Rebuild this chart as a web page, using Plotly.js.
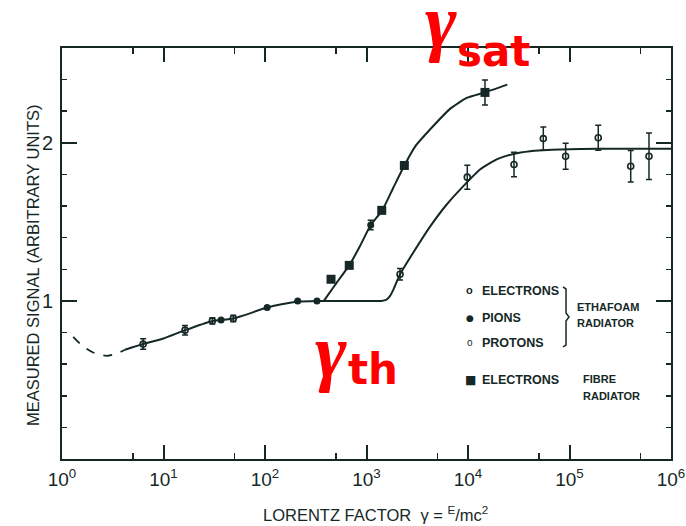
<!DOCTYPE html>
<html>
<head>
<meta charset="utf-8">
<script src="https://cdn.plot.ly/plotly-3.0.1.min.js"></script>
<style>html,body{margin:0;padding:0;background:#fff;}#chart{width:686px;height:526px;}</style>
</head>
<body>
<div id="chart"></div>
<script>
// ---- data ----
// Ethafoam radiator: protons (open circles, low gamma)
var protonsX = [6.3, 16.3, 30.3, 48.7];
var protonsY = [0.727, 0.815, 0.874, 0.889];
var protonsErr = [0.033, 0.03, 0.02, 0.02];
// Ethafoam radiator: pions (filled circles)
var pionsX = [36.9, 105, 210, 325, 1100];
var pionsY = [0.88, 0.958, 1.0, 1.0, 1.48];
var pionsErr = [0, 0, 0, 0, 0.03];
// Ethafoam radiator: electrons (open markers, high gamma)
var electronsX = [2140, 9840, 28400, 55200, 91600, 192000, 401000, 607000];
var electronsY = [1.169, 1.783, 1.863, 2.027, 1.915, 2.032, 1.852, 1.915];
var electronsErr = [0.036, 0.076, 0.077, 0.074, 0.082, 0.079, 0.1, 0.147];
// Fibre radiator: electrons (filled squares)
var fibreX = [447, 676, 1413, 2360, 14700];
var fibreY = [1.137, 1.225, 1.573, 1.857, 2.319];
var fibreErr = [0, 0, 0, 0, 0.079];
// Curves
var dashedX = [1.29, 1.62, 2.03, 2.76, 3.46, 4.17];
var dashedY = [0.773, 0.712, 0.674, 0.653, 0.668, 0.691];
var ethafoamCurveX = [4.17, 6.3, 10, 16.3, 30, 49, 105, 150, 210, 325, 600, 1000, 1400, 1560, 1700, 1850, 2140, 2890, 4230, 6170, 9000, 13120, 19170, 27990, 40900, 55200, 80600, 200000, 1000000];
var ethafoamCurveY = [0.691, 0.727, 0.762, 0.815, 0.872, 0.889, 0.958, 0.98, 0.995, 1.0, 1.0, 1.0, 1.0, 1.006, 1.03, 1.075, 1.169, 1.306, 1.47, 1.61, 1.726, 1.831, 1.895, 1.93, 1.947, 1.953, 1.958, 1.962, 1.962];
var fibreCurveX = [380, 420, 509, 676, 863, 1100, 1430, 1836, 2360, 3000, 4450, 6650, 9710, 14700, 24400];
var fibreCurveY = [1.0, 1.04, 1.116, 1.225, 1.347, 1.48, 1.573, 1.716, 1.857, 1.975, 2.1, 2.215, 2.284, 2.319, 2.368];
// Tick labels
var xTickVals = [1, 10, 100, 1000, 10000, 100000, 1000000];
var xTickText = ['10<sup>0</sup>', '10<sup>1</sup>', '10<sup>2</sup>', '10<sup>3</sup>', '10<sup>4</sup>', '10<sup>5</sup>', '10<sup>6</sup>'];
var xMinorVals = [5, 50, 500, 5000, 50000, 500000];
var yTickVals = [1, 2];
var yTickText = ['1', '2'];

// ---- styling ----
var INK = '#152826';
var SANS = '"Liberation Sans", Arial, sans-serif';
var L = 62, T = 48, W = 609, H = 411;
function px(x) { return (x - L) / W; }
function py(y) { return (T + H - y) / H; }

function errY(arr) {
  return {type: 'data', array: arr, visible: true, color: INK, thickness: 1.5, width: 3};
}

var traces = [
  {x: dashedX, y: dashedY, mode: 'lines', line: {color: INK, width: 1.8, dash: 'dash', shape: 'spline', smoothing: 1}, hoverinfo: 'skip', showlegend: false},
  {x: ethafoamCurveX, y: ethafoamCurveY, mode: 'lines', line: {color: INK, width: 2, shape: 'spline', smoothing: 0.5}, showlegend: false},
  {x: fibreCurveX, y: fibreCurveY, mode: 'lines', line: {color: INK, width: 2, shape: 'spline', smoothing: 0.5}, showlegend: false},
  {x: protonsX, y: protonsY, mode: 'markers', name: 'Protons', error_y: errY(protonsErr),
   marker: {symbol: 'circle-open', size: 6, color: INK, line: {width: 1.6, color: INK}}, showlegend: false},
  {x: pionsX, y: pionsY, mode: 'markers', name: 'Pions', error_y: errY(pionsErr),
   marker: {symbol: 'circle', size: 7, color: INK}, showlegend: false},
  {x: electronsX, y: electronsY, mode: 'markers', name: 'Electrons (ethafoam)', error_y: errY(electronsErr),
   marker: {symbol: 'circle-open', size: 6, color: INK, line: {width: 1.6, color: INK}}, showlegend: false},
  {x: fibreX, y: fibreY, mode: 'markers', name: 'Electrons (fibre)', error_y: errY(fibreErr),
   marker: {symbol: 'square', size: 9, color: INK}, showlegend: false}
];

var ann = [];
function txt(text, x, y, opts) {
  var a = {text: text, xref: 'paper', yref: 'paper', x: px(x), y: py(y), showarrow: false,
    xanchor: 'left', yanchor: 'middle', font: {family: SANS, size: 12.5, color: INK}};
  for (var k in opts) a[k] = opts[k];
  ann.push(a);
}
// axis titles
txt('MEASURED SIGNAL (ARBITRARY UNITS)', 33, 265, {xanchor: 'center', textangle: -90, font: {family: SANS, size: 16.5, color: INK}});
txt('LORENTZ FACTOR&nbsp;&nbsp;γ = <sup>E</sup>/mc<sup>2</sup>', 375, 514, {xanchor: 'center', font: {family: SANS, size: 16.5, color: INK}});
// legend block
txt('<b>o</b>', 469.5, 290, {xanchor: 'center', font: {family: SANS, size: 11, color: INK}});
txt('●', 469.5, 318.3, {xanchor: 'center', font: {family: 'DejaVu Sans', size: 9, color: INK}});
txt('o', 469.5, 342, {xanchor: 'center', font: {family: SANS, size: 10, color: INK}});
txt('■', 470, 380, {xanchor: 'center', font: {family: 'DejaVu Sans', size: 12, color: INK}});
txt('<b>ELECTRONS</b>', 480, 290.7);
txt('<b>PIONS</b>', 480, 318.3);
txt('<b>PROTONS</b>', 480, 342.7);
txt('<b>ELECTRONS</b>', 480, 380);
txt('<b>ETHAFOAM</b>', 575, 307.3, {font: {family: SANS, size: 11, color: INK}});
txt('<b>RADIATOR</b>', 575, 322.7, {font: {family: SANS, size: 11, color: INK}});
txt('<b>FIBRE</b>', 581, 379, {font: {family: SANS, size: 11, color: INK}});
txt('<b>RADIATOR</b>', 581, 395.7, {font: {family: SANS, size: 11, color: INK}});
// red labels
var RED = '#ff0000';
var GAMMA_FONT = {family: '"Liberation Serif", serif', size: 76, color: RED, weight: 'bold', style: 'italic'};
txt('γ', 441, 21, {xanchor: 'center', font: GAMMA_FONT});
txt('<b>sat</b>', 455, 51, {font: {family: 'DejaVu Sans', size: 42, color: RED}});
txt('γ', 331, 351, {xanchor: 'center', font: GAMMA_FONT});
txt('<b>th</b>', 346, 369, {font: {family: 'DejaVu Sans', size: 42, color: RED}});

// brace joining the three ethafoam entries (decoration, drawn in pixel positions)
var bracePts = [[563, 287, 'M'], [566, 289, 'L'], [566, 313, 'L'], [569, 317, 'L'], [566, 321, 'L'], [566, 345, 'L'], [563, 347, 'L']];
var bracePath = bracePts.map(function (p) { return p[2] + ' ' + px(p[0]).toFixed(4) + ',' + py(p[1]).toFixed(4); }).join(' ');

var axisCommon = {
  showline: true, linewidth: 2, linecolor: INK, mirror: 'allticks',
  showgrid: false, zeroline: false, ticks: 'inside', tickwidth: 2, tickcolor: INK
};

var layout = {
  width: 686, height: 526,
  margin: {l: L, r: 686 - L - W, t: T, b: 526 - T - H},
  paper_bgcolor: '#ffffff', plot_bgcolor: '#ffffff',
  showlegend: false,
  xaxis: Object.assign({}, axisCommon, {
    type: 'log', range: [0, 6], tickmode: 'array', tickvals: xTickVals, ticktext: xTickText,
    ticklen: 14, ticklabelstandoff: 2,
    tickfont: {family: SANS, size: 19, color: INK},
    minor: {tickmode: 'array', tickvals: xMinorVals, ticks: 'inside', ticklen: 6, tickwidth: 1.5, tickcolor: INK}
  }),
  yaxis: Object.assign({}, axisCommon, {
    range: [0, 2.6], tickmode: 'array', tickvals: yTickVals, ticktext: yTickText,
    ticklen: 15, ticklabelstandoff: 3,
    tickfont: {family: SANS, size: 20, color: INK},
    minor: {tick0: 0, dtick: 0.2, ticks: 'inside', ticklen: 5, tickwidth: 1.5, tickcolor: INK}
  }),
  shapes: [{type: 'path', xref: 'paper', yref: 'paper', path: bracePath, line: {color: INK, width: 1.5}}],
  annotations: ann
};

Plotly.newPlot('chart', traces, layout, {staticPlot: true, displayModeBar: false});
</script>
</body>
</html>
